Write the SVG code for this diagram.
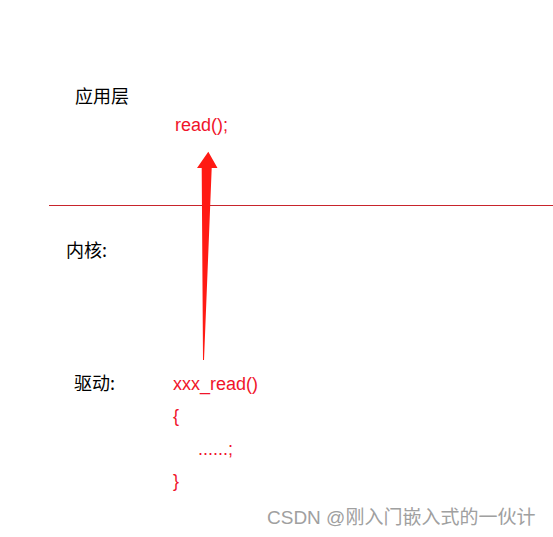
<svg xmlns="http://www.w3.org/2000/svg" width="553" height="537" viewBox="0 0 553 537">
<style>
.t{font-family:"Noto Sans CJK SC","Liberation Sans",sans-serif;font-size:18px;fill:#000}
.r{font-family:"Liberation Sans","Noto Sans CJK SC",sans-serif;font-size:18px;fill:#f0142a}
.w{font-family:"Liberation Sans","Noto Sans CJK SC",sans-serif;font-size:19px;fill:#a0a0a0}
</style>
<rect width="553" height="537" fill="#fff"/>
<g id="divider"><line x1="49" y1="205.5" x2="553" y2="205.5" stroke="#c8242c" stroke-width="1"/></g>
<g id="app"><text class="t" x="75" y="103">应用层</text><text class="r" x="175" y="131">read();</text></g>
<g id="kernel"><text class="t" x="66" y="257">内核:</text></g>
<g id="driver">
<text class="t" x="74" y="390">驱动:</text>
<text class="r" x="173" y="390">xxx_read()</text>
<text class="r" x="173" y="422">{</text>
<text class="r" x="198" y="455">......;</text>
<text class="r" x="173" y="487">}</text>
</g>
<g id="connectors">
<polygon points="203,360 201.7,168 197,168 208.3,151.7 217.5,168 211.7,168 204,360" fill="#ff1a14"/>
</g>
<text class="w" x="267" y="524">CSDN @刚入门嵌入式的一伙计</text>
</svg>
